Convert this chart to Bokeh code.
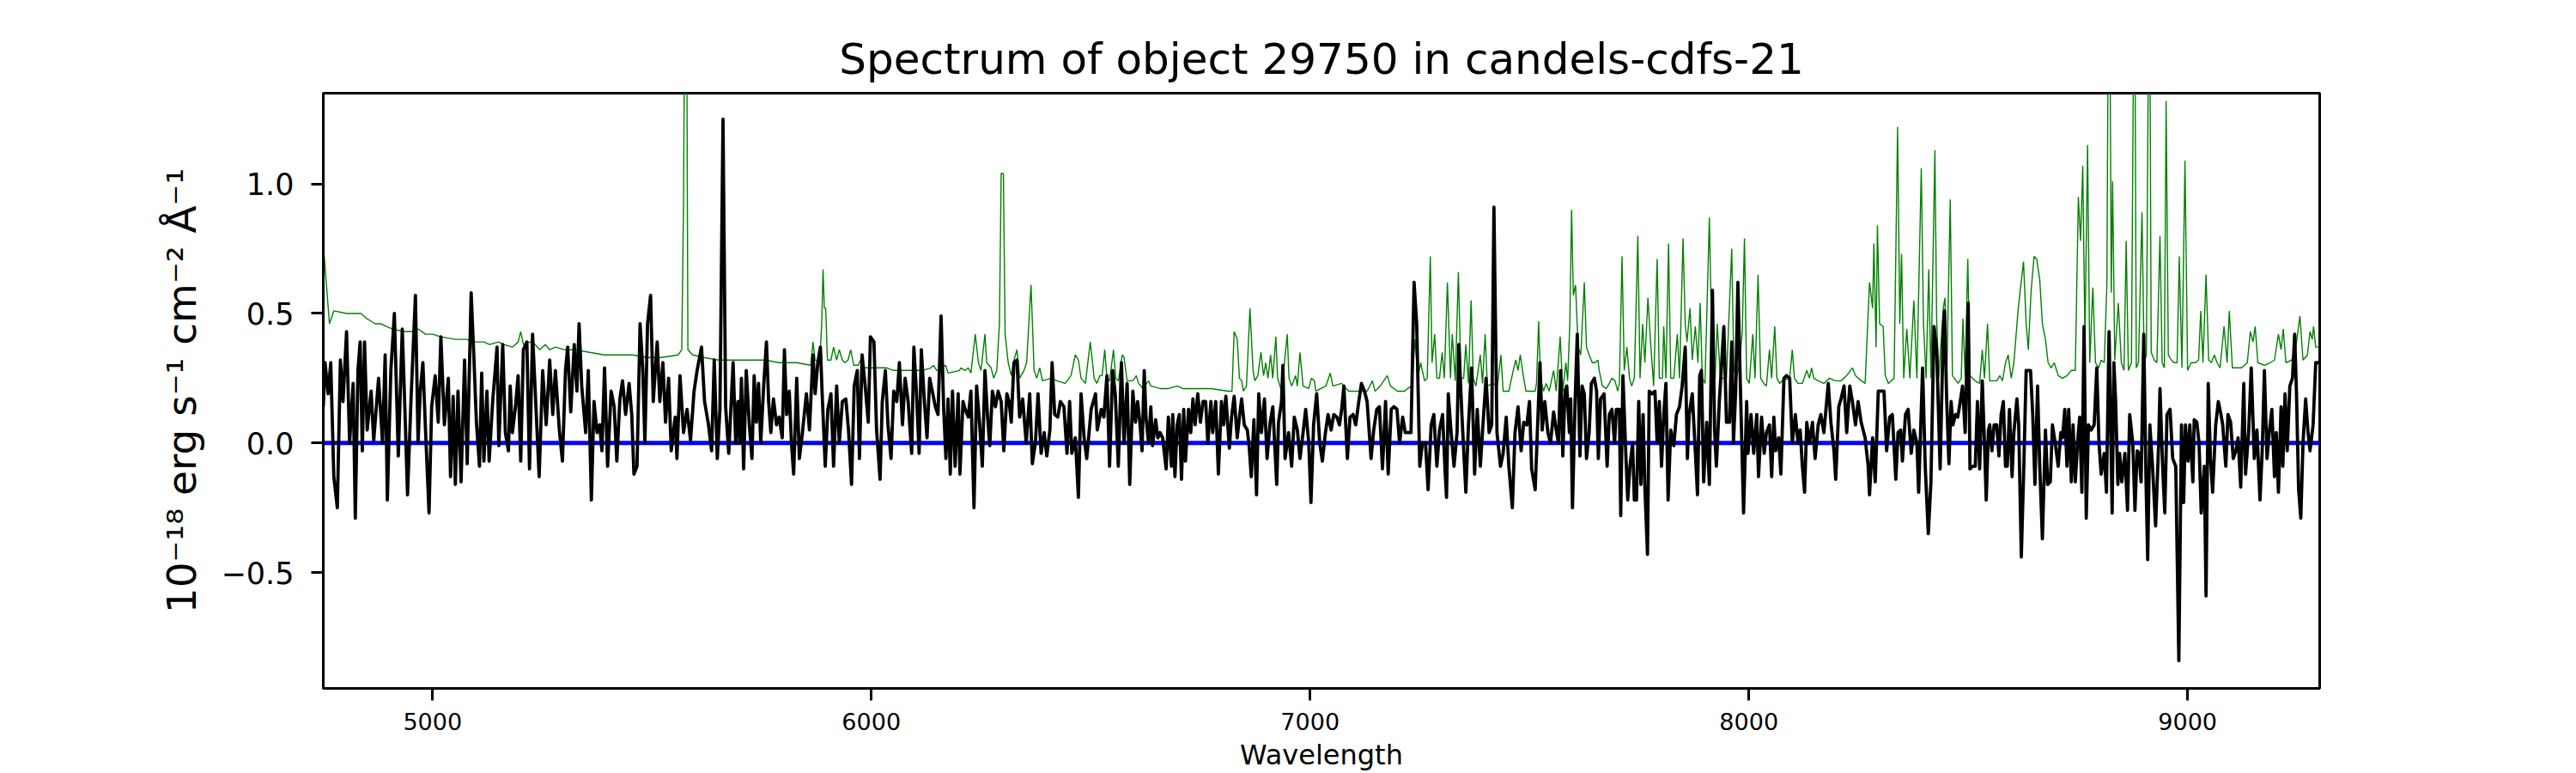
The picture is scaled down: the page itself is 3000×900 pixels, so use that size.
from bokeh.plotting import figure
from bokeh.models import Range1d, FixedTicker, Span
from bokeh.embed import file_html
from bokeh.resources import INLINE

TITLE = "Spectrum of object 29750 in candels-cdfs-21"
X_LABEL = "Wavelength"
Y_LABEL = "10⁻¹⁸ erg s⁻¹ cm⁻² Å⁻¹"
X_TICKS = [5000, 6000, 7000, 8000, 9000]
X_TICK_LABELS = ["5000", "6000", "7000", "8000", "9000"]
Y_TICKS = [-0.5, 0.0, 0.5, 1.0]
Y_TICK_LABELS = ["−0.5", "0.0", "0.5", "1.0"]
X_LIMITS = (4751, 9301)
Y_LIMITS = (-0.947, 1.35)
ZERO_LEVEL = 0.0

# object flux (wavelength [A], flux [1e-18 erg/s/cm2/A])
flux_a = [(4751,0.14),(4755,0.31),(4762,0.19),(4768,0.31),(4775,-0.13),(4783,-0.25),(4790,0.32),(4796,0.16),(4804,0.43),(4811,0.00),
(4819,0.23),(4824,-0.29),(4830,0.28),(4835,0.39),(4840,-0.03),(4845,0.39),(4851,0.05),(4860,0.20),(4866,0.01),(4877,0.25),
(4886,0.00),(4892,0.34),(4897,-0.22),(4905,0.28),(4913,0.50),(4922,-0.05),(4931,0.44),(4937,0.13),(4943,-0.20),(4951,0.17),
(4961,0.57),(4967,0.00),(4972,0.20),(4978,0.31),(4984,0.05),(4992,-0.27),(4998,0.14),(5006,0.26),(5013,0.08),(5019,0.41),
(5027,0.07),(5036,0.25),(5041,-0.13),(5047,0.18),(5052,-0.16),(5058,0.20),(5065,-0.15),(5073,0.32),(5079,-0.08),(5088,0.58),
(5094,0.34),(5100,0.08),(5107,-0.09),(5112,0.27),(5117,-0.07),(5124,0.20),(5129,-0.07),(5137,0.16),(5147,0.37),(5151,-0.01),
(5160,0.38),(5166,0.04),(5173,-0.03),(5177,0.22),(5182,0.04),(5189,0.14),(5195,0.26),(5201,-0.07),(5207,0.36),(5215,0.39),
(5221,-0.10),(5228,0.42),(5234,0.20),(5243,-0.13),(5251,0.28),(5259,0.07),(5267,0.32),(5274,0.11),(5280,0.28),(5289,0.05),
(5296,-0.07),(5303,0.28),(5308,0.37),(5315,0.12),(5323,0.38),(5329,0.20),(5334,0.46),(5340,0.22),(5349,0.04),(5355,0.28),
(5362,-0.22),(5368,0.16),(5375,0.04),(5381,0.07),(5386,-0.03),(5392,0.29),(5399,-0.09),(5407,0.20),(5414,0.14),(5420,-0.07),
(5427,0.17),(5433,0.24),(5440,0.11),(5448,0.23),(5454,0.11),(5459,-0.12),(5466,-0.09),(5473,0.46),(5479,0.29),(5484,0.00),
(5490,0.46),(5497,0.57),(5503,0.16),(5512,0.39),(5518,0.16),(5525,0.31),(5531,0.08),(5538,0.25),(5544,-0.03),(5553,0.10),
(5557,-0.06),(5564,0.26),(5572,0.04),(5580,0.13),(5588,0.01),(5596,0.20),(5603,0.28),(5613,0.37),(5620,0.16),(5629,0.07),
(5636,-0.03),(5642,0.32),(5649,-0.06),(5655,0.13),(5662,1.25),(5668,0.14),(5675,-0.04)]

flux_b = [(5685,0.31),(5691,0.00),(5696,0.16),(5700,0.00),(5704,0.25),(5709,-0.10),(5715,0.28),(5722,0.07),(5728,-0.06),(5733,0.26),
(5738,0.08),(5743,0.23),(5748,0.00),(5755,0.23),(5761,0.39),(5766,0.16),(5771,0.04),(5777,0.17),(5784,0.07),(5790,0.10),
(5797,0.02),(5802,0.36),(5807,0.11),(5813,0.20),(5818,0.00),(5823,-0.12),(5830,0.25),(5836,-0.06),(5843,0.04),(5852,0.19),
(5859,0.05),(5867,0.34),(5872,0.19),(5878,0.31),(5884,0.37),(5888,0.19),(5895,-0.09),(5901,0.13),(5908,0.19),(5914,-0.09),
(5921,0.22),(5927,0.00),(5934,0.16),(5942,0.17),(5948,0.05),(5955,-0.16),(5961,0.22),(5968,0.28),(5973,-0.06),(5979,0.34),
(5986,0.22),(5993,0.08),(5998,0.41),(6006,0.39),(6012,0.05),(6020,-0.14),(6025,0.16),(6032,0.28),(6038,0.07),(6045,-0.06),
(6051,0.20),(6058,0.16),(6064,0.31),(6071,0.07),(6077,0.25),(6084,0.16),(6092,-0.04),(6097,0.37),(6103,0.19),(6109,-0.04),
(6114,0.36),(6121,0.16),(6127,0.02),(6133,0.25),(6139,0.20),(6146,0.14),(6152,0.11),(6159,0.49),(6165,0.13),(6170,-0.06),
(6175,0.17),(6180,-0.12),(6185,0.20),(6191,-0.09),(6198,0.19),(6202,-0.12),(6209,0.16),(6214,0.13),(6221,0.10),(6227,0.20),
(6234,-0.25),(6240,0.22),(6247,0.07),(6253,-0.09),(6259,0.28),(6265,0.10),(6270,-0.01),(6276,0.20),(6283,0.14),(6289,0.20),
(6296,0.16),(6302,-0.03),(6309,0.19),(6314,0.16),(6319,0.08),(6325,0.31),(6332,0.32),(6338,0.10),(6345,0.17),(6353,0.00),
(6361,0.19),(6367,-0.08),(6374,0.00),(6380,0.19),(6387,-0.04),(6394,0.04),(6400,-0.05),(6407,0.05),(6412,0.31),(6418,0.11),
(6425,0.10),(6431,0.16),(6439,0.14),(6446,-0.04),(6452,0.16),(6457,-0.04),(6465,0.02),(6472,-0.21),(6478,0.19),(6485,0.02),
(6491,-0.06),(6501,0.13),(6511,0.19),(6515,0.05),(6524,0.13),(6530,0.10),(6537,0.26),(6543,-0.09),(6550,0.28),(6556,0.19),
(6563,-0.09),(6570,0.31),(6576,0.00),(6583,0.23),(6589,-0.16),(6596,0.20)]

flux_c = [(6602,0.08),(6607,0.16),(6612,0.08),(6617,-0.03),(6622,0.28),(6626,0.10),(6632,0.00),(6637,0.14),(6641,-0.01),(6648,0.09),
(6653,0.02),(6658,0.04),(6664,0.02),(6672,-0.10),(6677,0.10),(6684,-0.09),(6687,0.11),(6692,-0.13),(6697,0.07),(6702,0.11),
(6707,-0.14),(6712,0.13),(6716,-0.07),(6723,0.13),(6728,0.04),(6733,0.17),(6738,0.07),(6744,0.19),(6750,0.08),(6756,0.16),
(6762,0.16),(6767,0.00),(6774,0.16),(6778,0.04),(6785,0.16),(6791,-0.12),(6798,0.16),(6803,0.07),(6808,0.18),(6816,-0.02),
(6821,0.10),(6827,0.18),(6834,0.02),(6839,0.10),(6844,0.17),(6850,0.07),(6857,0.05),(6861,-0.01),(6866,-0.13),(6872,0.09),
(6878,-0.20),(6883,0.19),(6889,0.04),(6896,0.17),(6902,-0.06),(6909,0.08),(6915,0.14),(6924,-0.16),(6928,0.08),(6935,0.16),
(6938,0.30),(6943,-0.06),(6951,0.04),(6958,-0.09),(6964,0.10),(6971,0.05),(6977,-0.06),(6984,0.04),(6990,0.13),(6997,0.00),
(7002,-0.23),(7008,0.07),(7015,0.19),(7022,0.00),(7028,-0.07),(7035,0.04),(7041,0.11),(7048,0.05),(7054,0.11),(7061,0.10),
(7067,0.07),(7072,0.13),(7077,0.22),(7085,-0.06),(7091,0.10),(7098,0.11),(7104,0.07),(7111,0.16),(7117,0.23),(7124,0.20),
(7130,0.16),(7139,-0.06),(7145,0.05),(7152,0.13),(7158,0.14),(7165,-0.10),(7172,0.16),(7178,-0.12),(7185,0.13),(7191,0.14),
(7198,0.13),(7204,0.00),(7211,0.10),(7217,0.04),(7224,0.04),(7230,0.04),(7237,0.62),(7243,0.46),(7250,-0.09),(7256,0.00),
(7263,0.00),(7269,-0.18),(7276,0.07),(7282,0.11),(7289,-0.09),(7295,0.05),(7302,0.11),(7308,-0.12),(7311,-0.21),(7315,0.19),
(7321,0.05),(7328,-0.09),(7335,0.04),(7339,0.38),(7346,0.11),(7355,-0.19),(7361,0.07),(7368,0.29),(7375,-0.12),(7381,0.13),
(7388,-0.09),(7394,0.07),(7401,0.25),(7408,0.04),(7414,0.07),(7419,0.91),(7426,0.04),(7434,-0.09),(7440,-0.04),(7447,0.10),
(7453,-0.09),(7461,-0.25),(7467,0.04),(7474,0.14),(7481,-0.03),(7487,0.08),(7494,0.07),(7500,0.16),(7505,-0.10),(7513,-0.18)]

flux_d = [(7524,0.31),(7529,0.05),(7535,0.16),(7542,0.04),(7548,0.00),(7555,0.12),(7561,0.05),(7566,0.00),(7571,0.28),(7576,-0.05),
(7581,0.20),(7585,0.22),(7591,0.04),(7594,0.17),(7598,-0.25),(7604,0.16),(7609,0.42),(7615,-0.05),(7620,0.22),(7625,0.19),
(7630,-0.06),(7636,0.04),(7641,0.23),(7648,0.25),(7653,0.20),(7657,-0.06),(7662,0.17),(7670,0.19),(7677,-0.09),(7682,0.11),
(7688,0.13),(7694,0.00),(7698,0.13),(7705,0.13),(7708,-0.28),(7713,0.26),(7720,-0.06),(7724,-0.22),(7729,-0.09),(7735,0.00),
(7739,-0.22),(7744,-0.22),(7749,0.16),(7754,-0.16),(7759,0.11),(7763,-0.17),(7769,-0.43),(7773,0.20),(7780,0.19),(7786,0.20),
(7791,0.00),(7796,0.16),(7801,-0.09),(7806,0.11),(7811,0.23),(7816,-0.22),(7822,0.05),(7829,-0.01),(7835,0.11),(7842,0.14),
(7848,0.22),(7855,0.37),(7860,-0.06),(7864,0.11),(7871,0.19),(7877,0.00),(7883,-0.20),(7888,0.26),(7892,0.28),(7897,-0.15),
(7904,0.08),(7910,-0.16),(7917,0.59),(7922,0.05),(7926,-0.09),(7933,0.17),(7936,0.25),(7943,0.45),(7949,0.08),(7956,0.08),
(7961,0.39),(7965,0.00),(7970,0.20),(7975,0.62),(7982,0.13),(7988,-0.27),(7995,0.16),(7998,-0.04),(8005,0.11),(8011,-0.04),
(8018,0.11),(8022,-0.13),(8029,0.10),(8035,-0.04),(8040,0.04),(8047,0.07),(8052,-0.13),(8057,0.10),(8061,-0.03),(8068,0.02),
(8073,-0.12),(8080,0.25),(8086,0.26),(8093,0.25),(8099,0.00),(8106,0.11),(8112,0.00),(8117,0.05),(8122,-0.09),(8127,-0.19),
(8132,0.08),(8138,0.00),(8145,0.08),(8151,-0.06),(8158,0.07),(8164,0.11),(8171,0.04),(8181,0.23),(8187,0.08),(8194,-0.03),
(8198,-0.14),(8205,0.14),(8210,0.17),(8217,0.22),(8223,0.04),(8230,0.22),(8236,0.16),(8243,0.07),(8249,0.16),(8256,0.08),
(8265,0.02),(8272,-0.09),(8275,-0.20),(8282,0.02),(8288,-0.15),(8295,0.20),(8301,0.20),(8308,0.20),(8314,-0.03),(8321,0.10),
(8327,0.11),(8335,-0.14),(8340,0.04),(8346,0.05),(8350,-0.07),(8357,0.11),(8363,0.13),(8370,-0.04),(8376,0.05),(8383,0.00),
(8387,-0.19),(8396,0.29),(8402,-0.09),(8409,-0.35),(8415,-0.15),(8422,0.45),(8428,0.36),(8436,-0.10)]

flux_e = [(8443,0.43),(8446,0.51),(8451,0.16),(8456,-0.08),(8461,0.16),(8465,0.07),(8471,0.11),(8476,0.10),(8480,0.14),(8487,0.22),
(8493,0.04),(8500,0.54),(8504,-0.10),(8510,-0.09),(8516,-0.09),(8521,0.16),(8526,-0.10),(8532,0.24),(8537,0.00),(8541,-0.22),
(8546,0.05),(8549,0.07),(8554,-0.03),(8559,0.07),(8565,0.07),(8570,-0.05),(8575,0.11),(8580,0.16),(8585,-0.09),(8589,-0.09),
(8594,0.13),(8600,-0.13),(8604,0.04),(8611,0.17),(8615,0.07),(8621,-0.44),(8627,-0.07),(8632,0.28),(8637,0.28),(8642,0.28),
(8647,0.11),(8652,-0.16),(8658,0.22),(8663,-0.09),(8669,-0.37),(8676,0.05),(8681,-0.16),(8687,-0.15),(8692,0.07),(8699,-0.01),
(8705,-0.09),(8711,0.04),(8715,0.02),(8720,0.13),(8725,-0.09),(8729,0.13),(8735,-0.15),(8739,0.07),(8744,-0.15),(8750,0.02),
(8754,0.10),(8759,-0.19),(8764,0.45),(8769,-0.29),(8774,0.07),(8780,0.05),(8787,0.07),(8793,0.29),(8798,0.00),(8803,-0.12),
(8810,-0.04),(8815,-0.19),(8821,0.43),(8828,-0.27),(8832,0.31),(8836,0.16),(8841,-0.16),(8845,-0.04),(8850,-0.15),(8857,-0.04),
(8863,-0.26),(8868,0.11),(8875,0.00),(8880,-0.26),(8885,-0.03),(8889,-0.04),(8894,-0.15),(8900,0.42),(8905,-0.13),(8909,-0.45),
(8914,0.07),(8920,-0.09),(8927,-0.32),(8934,0.00),(8937,0.21),(8943,-0.09),(8948,-0.27),(8953,0.11),(8960,0.13),(8966,-0.06),
(8973,-0.09),(8980,-0.84),(8986,0.07),(8991,-0.23),(8995,0.07),(9001,-0.07),(9005,0.07),(9012,-0.15),(9015,0.09),(9021,0.08),
(9026,0.00),(9031,-0.27),(9038,-0.09),(9042,-0.59),(9047,0.23),(9052,-0.06),(9057,-0.19),(9064,0.07),(9070,0.16),(9076,0.11),
(9080,0.07),(9087,-0.09),(9092,0.11),(9098,0.08),(9104,-0.06),(9110,-0.03),(9115,0.02),(9121,-0.17),(9128,0.23),(9132,-0.12),
(9139,0.04),(9145,0.29),(9152,-0.06),(9158,0.05),(9165,-0.22),(9170,-0.03),(9175,0.28),(9181,-0.06),(9186,0.04),(9192,0.13),
(9198,-0.13),(9202,0.04),(9207,-0.19),(9213,0.14),(9217,-0.09),(9222,0.19),(9227,-0.03),(9233,0.22),(9239,0.25),(9244,0.42),
(9248,0.20),(9253,-0.18),(9258,-0.29),(9263,0.00),(9269,0.17),(9274,0.05),(9279,-0.03),(9286,0.07),(9292,0.31),(9299,0.31)]

# noise / sky spectrum (green)
noise_a = [(4751,0.77),(4765,0.46),(4775,0.51),(4804,0.50),(4817,0.50),(4824,0.50),(4837,0.50),(4850,0.48),(4860,0.47),(4869,0.46),
(4882,0.46),(4895,0.45),(4909,0.44),(4935,0.43),(4954,0.43),(4967,0.44),(4984,0.42),(5000,0.42),(5019,0.41),(5052,0.40),
(5078,0.40),(5098,0.39),(5117,0.39),(5130,0.38),(5150,0.39),(5163,0.38),(5182,0.37),(5195,0.39),(5201,0.43),(5207,0.38),
(5221,0.39),(5234,0.38),(5244,0.36),(5257,0.38),(5267,0.36),(5280,0.37),(5300,0.36),(5326,0.36),(5358,0.35),(5391,0.34),
(5424,0.34),(5456,0.34),(5489,0.33),(5521,0.33),(5560,0.34),(5568,0.36),(5572,0.92),(5575,1.80),(5579,1.80),(5582,0.36),
(5593,0.34),(5619,0.33),(5652,0.32),(5678,0.32)]

noise_b = [(5693,0.32),(5725,0.32),(5758,0.32),(5790,0.31),(5830,0.31),(5862,0.30),(5867,0.39),(5872,0.32),(5882,0.31),(5887,0.46),
(5890,0.67),(5893,0.52),(5896,0.52),(5900,0.32),(5908,0.32),(5914,0.37),(5921,0.32),(5927,0.36),(5934,0.32),(5940,0.31),
(5947,0.32),(5953,0.36),(5960,0.30),(5970,0.30),(5978,0.33),(5983,0.29),(5999,0.29),(6019,0.29),(6035,0.29),(6051,0.28),
(6084,0.28),(6116,0.28),(6136,0.29),(6142,0.30),(6149,0.28),(6169,0.30),(6175,0.27),(6201,0.28),(6204,0.29),(6214,0.28),
(6221,0.29),(6227,0.27),(6237,0.42),(6244,0.31),(6250,0.28),(6259,0.42),(6263,0.31),(6273,0.29),(6279,0.25),(6286,0.28),
(6292,0.46),(6296,1.04),(6301,1.04),(6305,0.42),(6312,0.31),(6319,0.26),(6325,0.32),(6332,0.36),(6338,0.25),(6348,0.28),
(6354,0.31),(6364,0.61),(6371,0.28),(6377,0.25),(6384,0.29),(6390,0.24),(6410,0.25),(6423,0.24),(6442,0.23),(6455,0.26),
(6465,0.34),(6472,0.32),(6478,0.25),(6488,0.23),(6499,0.39),(6508,0.25),(6514,0.23),(6521,0.26),(6526,0.26),(6532,0.36),
(6537,0.25),(6543,0.24),(6552,0.36),(6557,0.25),(6563,0.24),(6572,0.34),(6576,0.33),(6583,0.24),(6596,0.24)]

noise_c = [(6604,0.26),(6609,0.23),(6619,0.21),(6632,0.24),(6637,0.22),(6658,0.21),(6677,0.21),(6697,0.22),(6710,0.21),(6742,0.21),
(6775,0.21),(6814,0.20),(6822,0.20),(6827,0.43),(6834,0.40),(6839,0.25),(6844,0.24),(6848,0.20),(6855,0.22),(6863,0.52),
(6870,0.28),(6874,0.24),(6881,0.26),(6888,0.35),(6894,0.26),(6899,0.31),(6904,0.25),(6910,0.34),(6915,0.25),(6922,0.41),
(6926,0.25),(6935,0.20),(6948,0.42),(6952,0.25),(6958,0.22),(6967,0.26),(6971,0.22),(6977,0.35),(6984,0.22),(6997,0.21),
(7003,0.25),(7010,0.24),(7013,0.20),(7036,0.22),(7046,0.27),(7052,0.22),(7072,0.23),(7088,0.20),(7121,0.20),(7130,0.20),
(7142,0.24),(7148,0.20),(7160,0.22),(7176,0.26),(7183,0.22),(7199,0.20),(7215,0.20),(7222,0.21),(7232,0.22),(7239,0.40),
(7246,0.25),(7252,0.31),(7261,0.24),(7267,0.25),(7274,0.72),(7278,0.31),(7284,0.42),(7289,0.25),(7295,0.25),(7301,0.35),
(7306,0.25),(7313,0.62),(7320,0.25),(7324,0.42),(7331,0.24),(7338,0.66),(7344,0.25),(7350,0.25),(7355,0.38),(7361,0.23),
(7367,0.55),(7372,0.25),(7378,0.22),(7388,0.34),(7393,0.23),(7399,0.42),(7404,0.22),(7417,0.23),(7427,0.22),(7435,0.34),
(7440,0.20),(7453,0.20),(7463,0.28),(7469,0.32),(7474,0.28),(7479,0.34),(7486,0.26),(7492,0.20),(7505,0.20),(7513,0.20)]

noise_d = [(7516,0.23),(7521,0.47),(7525,0.25),(7532,0.20),(7538,0.23),(7545,0.20),(7555,0.28),(7561,0.20),(7570,0.41),(7576,0.20),
(7583,0.31),(7587,0.24),(7592,0.46),(7596,0.90),(7600,0.57),(7605,0.61),(7611,0.37),(7617,0.34),(7625,0.62),(7630,0.37),
(7636,0.34),(7643,0.31),(7649,0.31),(7656,0.32),(7659,0.28),(7666,0.22),(7675,0.21),(7682,0.23),(7688,0.25),(7695,0.24),
(7701,0.20),(7705,0.23),(7711,0.72),(7716,0.28),(7722,0.37),(7728,0.25),(7733,0.22),(7739,0.25),(7747,0.80),(7752,0.25),
(7758,0.46),(7763,0.31),(7770,0.56),(7776,0.39),(7783,0.22),(7791,0.71),(7796,0.25),(7803,0.25),(7806,0.45),(7811,0.25),
(7817,0.77),(7822,0.25),(7829,0.25),(7837,0.42),(7842,0.25),(7850,0.79),(7855,0.46),(7859,0.39),(7866,0.52),(7871,0.32),
(7878,0.45),(7884,0.31),(7889,0.54),(7894,0.25),(7900,0.23),(7910,0.87),(7917,0.25),(7923,0.25),(7928,0.46),(7935,0.25),
(7949,0.25),(7961,0.75),(7966,0.28),(7972,0.25),(7979,0.31),(7985,0.43),(7990,0.79),(7995,0.25),(8001,0.23),(8009,0.42),
(8014,0.25),(8021,0.65),(8027,0.25),(8034,0.23),(8040,0.22),(8047,0.36),(8052,0.25),(8059,0.45),(8064,0.25),(8070,0.23),
(8076,0.24),(8093,0.25),(8099,0.36),(8104,0.25),(8112,0.23),(8122,0.23),(8132,0.28),(8138,0.25),(8143,0.29),(8148,0.25),
(8158,0.24),(8171,0.23),(8184,0.25),(8197,0.24),(8210,0.24),(8223,0.26),(8236,0.29),(8243,0.26),(8256,0.24),(8265,0.23),
(8275,0.62),(8282,0.52),(8285,0.77),(8290,0.37),(8293,0.84),(8298,0.46),(8306,0.45),(8311,0.26),(8318,0.23),(8331,0.25),
(8339,1.22),(8344,0.46),(8348,0.73),(8353,0.25),(8360,0.44),(8367,0.25),(8376,0.55),(8383,0.25),(8393,1.06),(8398,0.46),
(8404,0.25),(8410,0.67),(8415,0.25),(8424,1.13),(8428,0.48),(8433,0.25)]

noise_e = [(8435,0.31),(8443,0.52),(8447,0.56),(8451,0.25),(8459,0.94),(8464,0.26),(8477,0.23),(8484,0.25),(8488,0.48),(8493,0.26),
(8499,0.71),(8504,0.26),(8516,0.24),(8526,0.23),(8532,0.36),(8537,0.25),(8544,0.46),(8549,0.24),(8565,0.24),(8572,0.26),
(8578,0.24),(8585,0.31),(8591,0.34),(8598,0.25),(8604,0.31),(8614,0.52),(8626,0.70),(8632,0.46),(8637,0.36),(8643,0.58),
(8650,0.72),(8656,0.71),(8663,0.63),(8669,0.46),(8676,0.40),(8682,0.31),(8689,0.29),(8696,0.31),(8705,0.26),(8715,0.25),
(8725,0.26),(8735,0.28),(8744,0.28),(8751,0.95),(8756,0.78),(8761,1.07),(8766,0.40),(8772,1.15),(8777,0.31),(8784,0.60),
(8790,0.31),(8797,0.29),(8803,0.32),(8810,0.31),(8816,0.61),(8819,1.60),(8823,1.60),(8826,0.58),(8829,1.01),(8834,0.32),
(8842,0.54),(8849,0.31),(8855,0.28),(8860,0.78),(8865,0.28),(8872,0.31),(8877,1.60),(8880,1.60),(8883,0.29),(8888,0.31),
(8896,0.89),(8901,0.31),(8906,0.34),(8911,1.60),(8914,1.60),(8917,0.35),(8924,0.32),(8930,0.31),(8937,0.80),(8942,0.31),
(8947,0.29),(8951,1.32),(8956,0.34),(8963,0.32),(8969,0.31),(8976,0.31),(8981,0.72),(8987,0.29),(8994,1.09),(9000,0.28),
(9008,0.31),(9018,0.31),(9025,0.32),(9030,0.51),(9035,0.31),(9042,0.65),(9048,0.32),(9054,0.31),(9061,0.34),(9067,0.31),
(9074,0.29),(9083,0.45),(9090,0.31),(9095,0.51),(9102,0.29),(9110,0.29),(9123,0.29),(9136,0.31),(9143,0.43),(9149,0.39),
(9154,0.45),(9160,0.31),(9175,0.30),(9188,0.31),(9198,0.32),(9207,0.42),(9213,0.36),(9218,0.44),(9224,0.31),(9237,0.32),
(9246,0.36),(9256,0.49),(9263,0.32),(9273,0.34),(9279,0.43),(9284,0.40),(9287,0.45),(9292,0.37),(9299,0.37)]


def unzip(*segments):
    xs, ys = [], []
    for seg in segments:
        for a, b in seg:
            xs.append(a)
            ys.append(b)
    return xs, ys


flux_wave, flux_val = unzip(flux_a, flux_b, flux_c, flux_d, flux_e)
noise_wave, noise_val = unzip(noise_a, noise_b, noise_c, noise_d, noise_e)

FONT = "DejaVu Sans"

p = figure(width=3000, height=900, output_backend="svg", toolbar_location=None,
           x_range=Range1d(*X_LIMITS), y_range=Range1d(*Y_LIMITS),
           min_border_left=376, min_border_right=299, min_border_top=108,
           min_border_bottom=96, title=TITLE)

p.title.text_font = FONT
p.title.text_font_size = "50px"
p.title.text_font_style = "normal"
p.title.text_color = "black"
p.title.align = "center"
p.title.standoff = 22

p.xgrid.visible = False
p.ygrid.visible = False
p.background_fill_color = "white"
p.border_fill_color = "white"
p.outline_line_color = "black"
p.outline_line_width = 3
p.outline_line_alpha = 1.0

for ax in (p.xaxis[0], p.yaxis[0]):
    ax.axis_line_color = "black"
    ax.axis_line_width = 3
    ax.major_tick_line_color = "black"
    ax.major_tick_line_width = 3
    ax.major_tick_out = 14
    ax.major_tick_in = 0
    ax.minor_tick_line_color = None
    ax.major_label_text_font = FONT
    ax.major_label_text_color = "black"
    ax.axis_label_text_font = FONT
    ax.axis_label_text_font_style = "normal"
    ax.axis_label_text_color = "black"

xa = p.xaxis[0]
xa.ticker = FixedTicker(ticks=X_TICKS)
xa.major_label_overrides = dict(zip(X_TICKS, X_TICK_LABELS))
xa.major_label_text_font_size = "27px"
xa.major_label_standoff = 14
xa.axis_label = X_LABEL
xa.axis_label_text_font_size = "32px"
xa.axis_label_standoff = 7

ya = p.yaxis[0]
ya.ticker = FixedTicker(ticks=Y_TICKS)
ya.major_label_overrides = dict(zip(Y_TICKS, Y_TICK_LABELS))
ya.major_label_text_font_size = "35px"
ya.major_label_standoff = 20
ya.axis_label = Y_LABEL
ya.axis_label_text_font_size = "47px"
ya.axis_label_standoff = 16

p.add_layout(Span(location=ZERO_LEVEL, dimension="width", line_color="#0000ff",
                  line_width=5, level="underlay"))

p.line(noise_wave, noise_val, line_color="#008000", line_width=1.4)
p.line(flux_wave, flux_val, line_color="black", line_width=3.8, line_join="round")

open("out.html", "w").write(file_html(p, INLINE))
